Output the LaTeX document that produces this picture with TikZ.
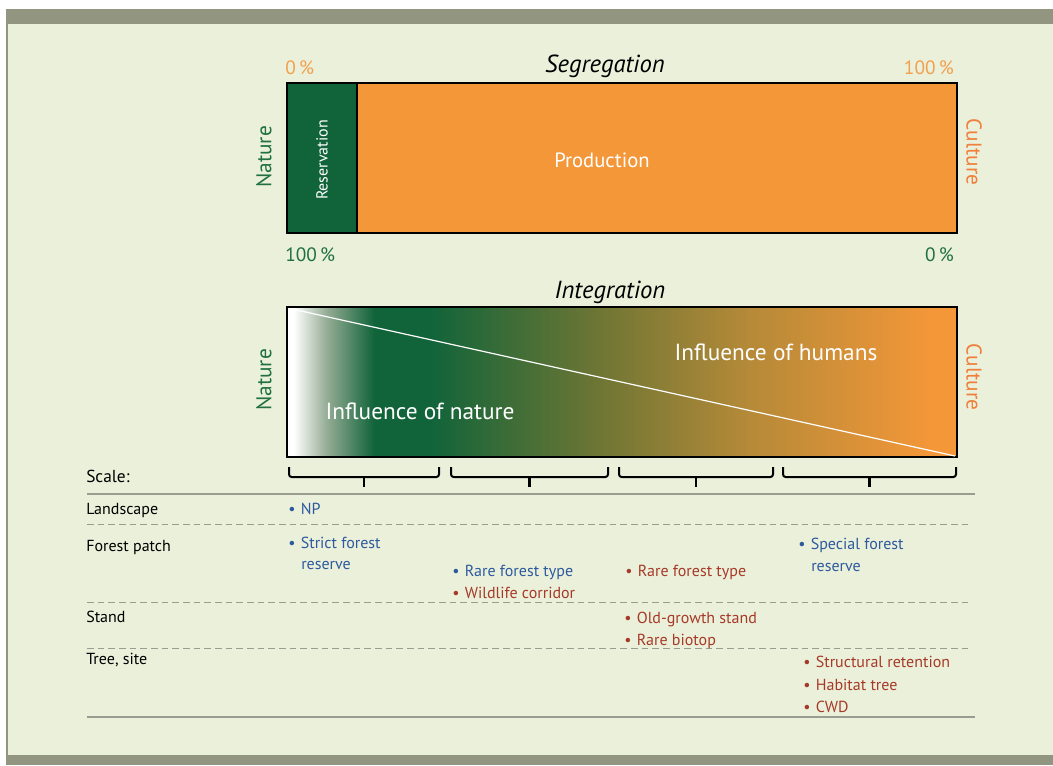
\documentclass[tikz,border=0pt]{standalone}
\usepackage{fontspec}
\setmainfont{PT Sans}
\usetikzlibrary{positioning}
\definecolor{bgpale}{HTML}{EBF0DA}
\definecolor{framegrey}{HTML}{92957F}
\definecolor{natgreen}{HTML}{11643A}
\definecolor{natmid}{HTML}{93AB93}
\definecolor{natlabel}{HTML}{1F7042}
\definecolor{oliveband}{HTML}{6F7634}
\definecolor{ochreband}{HTML}{B68A38}
\definecolor{cultorange}{HTML}{F39738}
\definecolor{pctorange}{HTML}{F2A04E}
\definecolor{cultlabel}{HTML}{EF7F3A}
\definecolor{listblue}{HTML}{2D5A9E}
\definecolor{listred}{HTML}{A63A28}
\definecolor{rulegrey}{HTML}{9A9C90}
\pgfdeclarehorizontalshading{natcult}{100bp}{color(0bp)=(white); color(25bp)=(white); color(25.5bp)=(white); color(28bp)=(natmid); color(31.5bp)=(natgreen); color(35.7bp)=(natgreen); color(48.4bp)=(oliveband); color(59.6bp)=(ochreband); color(73bp)=(cultorange); color(100bp)=(cultorange)}
\begin{document}
\begin{tikzpicture}[x=0.75pt, y=-0.75pt,
  big/.style={font=\fontsize{17.5}{20}\selectfont},
  side/.style={font=\fontsize{16}{18}\selectfont},
  pct/.style={font=\fontsize{14.5}{16}\selectfont, anchor=base},
  ttl/.style={font=\fontsize{18.5}{20}\selectfont\itshape, anchor=base},
  rowlab/.style={font=\fontsize{12}{14}\selectfont, anchor=base west},
  item/.style={font=\fontsize{12}{14}\selectfont, anchor=base west, align=left, inner sep=0pt}]
\useasboundingbox (0,0) rectangle (1053,765);
\fill[white] (0,0) rectangle (1053,765);
\fill[bgpale] (6,9) rectangle (1053,765);
\fill[framegrey] (6,9) rectangle (1053,24);
\fill[framegrey] (6,24) rectangle (8,755);
\fill[framegrey] (6,755) rectangle (1053,765);

\fill[natgreen] (287,83) rectangle (357,233);
\fill[cultorange] (357,83) rectangle (957,233);
\draw[line width=1pt] (287,83) rectangle (957,233);
\draw[line width=1pt] (357,83) -- (357,233);
\node[rotate=90, white, font=\fontsize{12}{14}\selectfont] (resv) at (322,160) {Reservation};
\node[white, font=\fontsize{15.5}{18}\selectfont] (prod) at (602,160) {Production};
\node[ttl] (segr) at (605,72) {Segregation};
\node[pct, pctorange, anchor=base west, inner sep=0pt] (segl) at (285,74) {0\,\%};
\node[pct, pctorange, anchor=base east, inner sep=0pt] (segr) at (954,74) {100\,\%};
\node[pct, natlabel, anchor=base west, inner sep=0pt] (natl) at (285,261) {100\,\%};
\node[pct, natlabel, anchor=base east, inner sep=0pt] (natr) at (954,261) {0\,\%};
\node[side, rotate=90, natlabel] (nat1) at (264,157) {Nature};
\node[side, rotate=-90, cultlabel] (cult1) at (974,152) {Culture};

\shade[shading=natcult] (287,307) rectangle (957,457);
\draw[line width=1pt] (287,307) rectangle (957,457);
\coordinate (ltop) at (292,309);
\coordinate (rbot) at (955,456);
\draw[white, line width=0.9pt] (ltop) -- (rbot);
\node[ttl] (integ) at (610,298) {Integration};
\node[big, white, anchor=base] (hum) at (776,360) {Influence of humans};
\node[big, white, anchor=base] (natinf) at (420,419) {Influence of nature};
\node[side, rotate=90, natlabel] (nat2) at (264,380) {Nature};
\node[side, rotate=-90, cultlabel] (cult2) at (974,377) {Culture};

\foreach \a/\b in {289/439, 451/608, 619/773, 783/956}{
  \draw[line width=1.5pt, rounded corners=2pt] (\a,467) -- (\a,477) -- (\b,477) -- (\b,467);
  \draw[line width=1.6pt] ({(\a+\b)/2},477) -- ++(0,10);
}

\node[font=\fontsize{13}{15}\selectfont, anchor=base west, inner sep=0pt] (scale) at (86,482) {Scale:};
\draw[rulegrey, line width=1pt] (87,494) -- (975,494);
\draw[rulegrey, line width=1pt] (87,717) -- (975,717);
\foreach \y in {524,602,648}
  \draw[rulegrey, dashed, dash pattern=on 5pt off 3pt] (87,\y) -- (970,\y);

\node[rowlab, inner sep=0pt] (land) at (86,514) {Landscape};
\node[rowlab, inner sep=0pt] (patch) at (86,551) {Forest patch};
\node[rowlab, inner sep=0pt] (stand) at (86,622) {Stand};
\node[rowlab, inner sep=0pt] (tree) at (86,664) {Tree, site};

\node[item, listblue] (np) at (288,514) {\textbullet\hspace{4pt}NP};
\node[item, listblue] (strict) at (288,548) {\textbullet\hspace{4pt}Strict forest};
\node[item, listblue] (strictb) at (301,569) {reserve};
\node[item, listblue] (rareb) at (452,576) {\textbullet\hspace{4pt}Rare forest type};
\node[item, listred] (wild) at (452,598) {\textbullet\hspace{4pt}Wildlife corridor};
\node[item, listred] (rarer) at (625,576) {\textbullet\hspace{4pt}Rare forest type};
\node[item, listblue] (spec) at (798,549) {\textbullet\hspace{4pt}Special forest};
\node[item, listblue] (specb) at (811,571) {reserve};
\node[item, listred] (old) at (624,623) {\textbullet\hspace{4pt}Old-growth stand};
\node[item, listred] (biot) at (624,645) {\textbullet\hspace{4pt}Rare biotop};
\node[item, listred] (struct) at (803,667) {\textbullet\hspace{4pt}Structural retention};
\node[item, listred] (habit) at (803,690) {\textbullet\hspace{4pt}Habitat tree};
\node[item, listred] (cwd) at (803,712) {\textbullet\hspace{4pt}CWD};
\end{tikzpicture}
\end{document}
